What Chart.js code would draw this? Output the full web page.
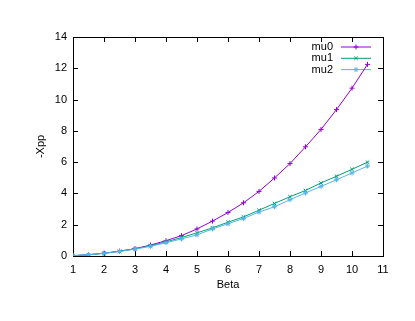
<!DOCTYPE html>
<html>
<head>
<meta charset="utf-8">
<script src="https://cdn.jsdelivr.net/npm/chart.js@4.4.1/dist/chart.umd.min.js"></script>
<style>
  html, body { margin: 0; padding: 0; background: #ffffff; }
  #wrap { width: 415px; height: 321px; }
</style>
</head>
<body>
<div id="wrap"><canvas id="xppChart" width="415" height="321"></canvas></div>
<script>
// Beta values (x) and -Xpp for each mu
let beta = [1, 1.5, 2, 2.5, 3, 3.5, 4, 4.5, 5, 5.5, 6, 6.5, 7, 7.5, 8, 8.5, 9, 9.5, 10, 10.5];
let mu0 = [0.02, 0.08, 0.18, 0.31, 0.47, 0.70, 0.98, 1.30, 1.73, 2.23, 2.78, 3.40, 4.13, 4.99, 5.91, 6.98, 8.09, 9.36, 10.73, 12.25];
let mu1 = [0.02, 0.08, 0.17, 0.30, 0.46, 0.65, 0.90, 1.18, 1.48, 1.80, 2.16, 2.50, 2.93, 3.36, 3.79, 4.19, 4.67, 5.10, 5.54, 6.00];
let mu2 = [0.02, 0.08, 0.17, 0.29, 0.44, 0.62, 0.85, 1.09, 1.35, 1.73, 2.06, 2.40, 2.81, 3.15, 3.60, 4.03, 4.45, 4.87, 5.31, 5.75];
let seriesNames = ['mu0', 'mu1', 'mu2'];
let seriesColors = ['#9400d3', '#009e73', '#56b4e9'];
let seriesPoints = ['cross', 'crossRot', 'star'];

let fontFamily = '"Liberation Sans", Arial, sans-serif';

function toXY(values) {
  return beta.map((b, i) => ({ x: b, y: values[i] }));
}

// frame, inward ticks on all four sides, and the key in the top right corner
let gnuplotFrame = {
  id: 'gnuplotFrame',
  beforeDatasetsDraw(chart) {
    let ctx = chart.ctx, a = chart.chartArea;
    let xs = chart.scales.x, ys = chart.scales.y;
    ctx.save();
    ctx.strokeStyle = '#000000';
    ctx.lineWidth = 1;
    ctx.beginPath();
    xs.ticks.forEach(t => {
      let px = Math.round(xs.getPixelForValue(t.value)) + 0.5;
      ctx.moveTo(px, a.bottom); ctx.lineTo(px, a.bottom - 5);
      ctx.moveTo(px, a.top); ctx.lineTo(px, a.top + 5);
    });
    ys.ticks.forEach(t => {
      let py = Math.round(ys.getPixelForValue(t.value)) + 0.5;
      ctx.moveTo(a.left, py); ctx.lineTo(a.left + 5, py);
      ctx.moveTo(a.right, py); ctx.lineTo(a.right - 5, py);
    });
    ctx.stroke();
    ctx.strokeRect(Math.round(a.left) + 0.5, Math.round(a.top) + 0.5,
      Math.round(a.right - a.left), Math.round(a.bottom - a.top));

    // key
    ctx.font = '11px ' + fontFamily;
    ctx.textAlign = 'right';
    ctx.textBaseline = 'middle';
    chart.data.datasets.forEach((ds, i) => {
      let y = a.top + 10 + i * 11.3;
      ctx.fillStyle = '#000000';
      ctx.fillText(ds.label, a.right - 50, y);
      ctx.strokeStyle = ds.borderColor;
      ctx.beginPath();
      ctx.moveTo(a.right - 42, y); ctx.lineTo(a.right - 12, y);
      ctx.stroke();
      Chart.helpers.drawPoint(ctx, {
        pointStyle: ds.pointStyle, radius: 2.5, borderWidth: 1, rotation: 0
      }, a.right - 27, y);
    });
    ctx.restore();
  }
};

let xppChart = new Chart(document.getElementById('xppChart').getContext('2d'), {
  type: 'scatter',
  data: {
    datasets: seriesNames.map((name, i) => ({
      label: name,
      data: toXY([mu0, mu1, mu2][i]),
      showLine: true,
      borderColor: seriesColors[i],
      backgroundColor: seriesColors[i],
      borderWidth: 1,
      pointStyle: seriesPoints[i],
      pointRadius: 2.5,
      pointBorderWidth: 1,
      pointHoverRadius: 2.5,
      order: 2 - i
    }))
  },
  options: {
    responsive: false,
    animation: false,
    events: [],
    layout: { padding: { left: 0, right: 32, top: 37, bottom: 0 } },
    plugins: {
      legend: { display: false },
      tooltip: { enabled: false }
    },
    scales: {
      x: {
        type: 'linear',
        min: 1, max: 11,
        afterFit: s => { s.height = 65; },
        grid: { display: false, drawTicks: false },
        border: { display: false },
        ticks: { stepSize: 1, padding: 7, color: '#000000', font: { family: fontFamily, size: 11 } },
        title: { display: true, text: 'Beta', color: '#000000', padding: { top: 0, bottom: 29 },
          font: { family: fontFamily, size: 11 } }
      },
      y: {
        min: 0, max: 14,
        afterFit: s => { s.width = 73; },
        grid: { display: false, drawTicks: false },
        border: { display: false },
        ticks: { stepSize: 2, padding: 6, color: '#000000', font: { family: fontFamily, size: 11 } },
        title: { display: true, text: '-Xpp', color: '#000000', padding: { top: 34, bottom: 0 },
          font: { family: fontFamily, size: 11 } }
      }
    }
  },
  plugins: [gnuplotFrame]
});
</script>
</body>
</html>
